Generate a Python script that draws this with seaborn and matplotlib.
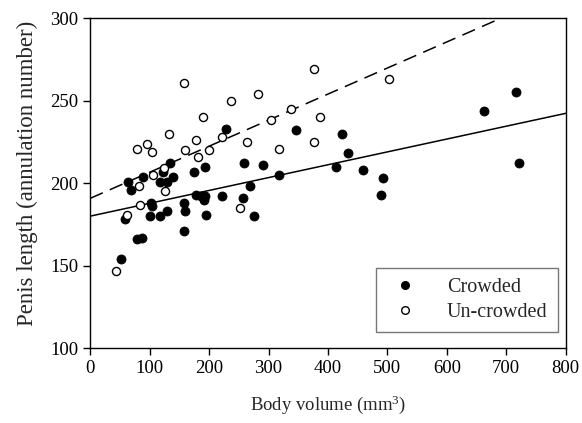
import numpy as np
import pandas as pd
import matplotlib
matplotlib.use("Agg")
import matplotlib.pyplot as plt
import seaborn as sns
from matplotlib.lines import Line2D

# Crowded worms: body volume (mm^3) and penis length (annulation number)
crowded_volume = [52, 59, 63, 69, 79, 87, 89, 100, 103, 104, 118, 117, 122, 129, 129,
                  134, 139, 157, 157, 160, 175, 178, 186, 193, 193, 191, 194, 222, 229,
                  257, 258, 269, 276, 290, 317, 347, 413, 423, 433, 459, 489, 493, 662,
                  717, 722]
crowded_length = [154, 178, 201, 196, 166, 167, 204, 180, 188, 186, 180, 201, 207, 183, 201,
                  212, 204, 171, 188, 183, 207, 193, 192, 192, 210, 190, 181, 192, 233,
                  191, 212, 198, 180, 211, 205, 232, 210, 230, 218, 208, 193, 203, 244,
                  255, 212]

# Un-crowded worms
uncrowded_volume = [44, 62, 82, 83, 78, 96, 104, 106, 124, 125, 133, 157, 159, 178, 181,
                    189, 200, 222, 237, 252, 264, 282, 304, 317, 338, 377, 377, 387, 502]
uncrowded_length = [147, 181, 198, 187, 221, 224, 219, 205, 209, 195, 230, 261, 220, 226, 216,
                    240, 220, 228, 250, 185, 225, 254, 238, 221, 245, 269, 225, 240, 263]

# Fitted regression lines (intercept, slope)
crowded_fit = [180.0, 0.0779]
uncrowded_fit = [190.8, 0.158]

sns.set_theme(style="ticks")
plt.rcParams["font.family"] = ["Liberation Serif", "DejaVu Serif"]
plt.rcParams["mathtext.default"] = "regular"

fig = plt.figure(figsize=(5.82, 4.23), dpi=100)
ax = fig.add_axes([0.155, 0.177, 0.817, 0.780])

df_c = pd.DataFrame({"volume": crowded_volume, "length": crowded_length})
df_u = pd.DataFrame({"volume": uncrowded_volume, "length": uncrowded_length})

sns.scatterplot(data=df_c, x="volume", y="length", ax=ax, color="black",
                edgecolor="black", s=42, linewidth=0.6, zorder=3)
sns.scatterplot(data=df_u, x="volume", y="length", ax=ax, facecolor="white",
                edgecolor="black", s=34, linewidth=1.0, zorder=3)

xs = np.linspace(0, 800, 200)
ax.plot(xs, crowded_fit[0] + crowded_fit[1] * xs, color="black", lw=1.1, zorder=2)
ax.plot(xs, uncrowded_fit[0] + uncrowded_fit[1] * xs, color="black", lw=1.1,
        dashes=(9, 5), zorder=2)

ax.set_xlim(0, 800)
ax.set_ylim(100, 300)
ax.set_xticks(np.arange(0, 801, 100))
ax.set_yticks(np.arange(100, 301, 50))
ax.tick_params(direction="out", length=5, width=1, labelsize=13.5, colors="black",
               top=False, right=False)
for sp in ax.spines.values():
    sp.set_color("black")
    sp.set_linewidth(1)

ax.set_xlabel(r"Body volume (mm$^{3}$)", fontsize=13.5, labelpad=12)
ax.set_ylabel("Penis length (annulation number)", fontsize=16.5, labelpad=9)
ax.yaxis.label.set_y(0.53)

handles = [
    Line2D([], [], marker="o", ls="", markerfacecolor="black", markeredgecolor="black",
           markersize=5.5),
    Line2D([], [], marker="o", ls="", markerfacecolor="white", markeredgecolor="black",
           markersize=5.5, markeredgewidth=1),
]
leg = ax.legend(handles, ["Crowded", "Un-crowded"], loc="lower right",
                bbox_to_anchor=(0.983, 0.048), fontsize=14.5, frameon=True, fancybox=False,
                borderpad=0.5, handletextpad=1.2, labelspacing=0.3, borderaxespad=0,
                handlelength=1.8)
leg.get_frame().set_edgecolor("#555555")
leg.get_frame().set_linewidth(1)

fig.savefig("out.png", dpi=100)
